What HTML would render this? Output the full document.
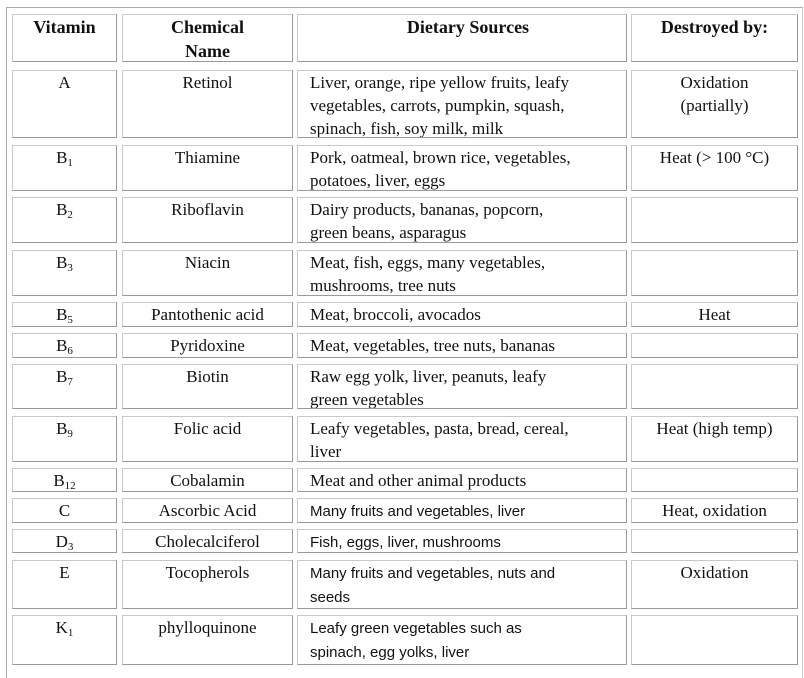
<!DOCTYPE html>
<html><head><meta charset="utf-8"><style>
body{margin:0;width:804px;height:673px;background:#fff;position:relative;overflow:hidden;font-family:"Liberation Serif",serif;color:#111}
#frame{position:absolute;left:6px;top:7px;width:795px;height:670px;border-top:1px solid #aaa;border-left:1px solid #aaa;border-right:1px solid #ccc}
.c{position:absolute;box-sizing:border-box;border:1px solid #c8c8c8;border-right-color:#999;border-bottom-color:#999;font-size:17px;line-height:23px;padding-top:0;white-space:nowrap;overflow:hidden}
.ctr{text-align:center}
.l{padding-left:12px}
.h{font-weight:bold;font-size:18px;line-height:24px;padding-top:0}
.s{font-family:"Liberation Sans",sans-serif;font-size:15px;line-height:23px}
sub{font-size:11px;vertical-align:-3px;line-height:0}
</style></head><body>
<div id="frame"></div>
<div id="t"></div>
<script>
const rows=[
 [14,62,'<b>Vitamin</b>','<b>Chemical<br>Name</b>','<b>Dietary Sources</b>','<b>Destroyed by:</b>',1],
 [70,138,'A','Retinol','Liver, orange, ripe yellow fruits, leafy<br>vegetables, carrots, pumpkin, squash,<br>spinach, fish, soy milk, milk','Oxidation<br>(partially)'],
 [145,191,'B<sub>1</sub>','Thiamine','Pork, oatmeal, brown rice, vegetables,<br>potatoes, liver, eggs','Heat (&gt; 100 °C)'],
 [197,243,'B<sub>2</sub>','Riboflavin','Dairy products, bananas, popcorn,<br>green beans, asparagus',''],
 [250,296,'B<sub>3</sub>','Niacin','Meat, fish, eggs, many vegetables,<br>mushrooms, tree nuts',''],
 [302,327,'B<sub>5</sub>','Pantothenic acid','Meat, broccoli, avocados','Heat'],
 [333,358,'B<sub>6</sub>','Pyridoxine','Meat, vegetables, tree nuts, bananas',''],
 [364,409,'B<sub>7</sub>','Biotin','Raw egg yolk, liver, peanuts, leafy<br>green vegetables',''],
 [416,462,'B<sub>9</sub>','Folic acid','Leafy vegetables, pasta, bread, cereal,<br>liver','Heat (high temp)'],
 [468,492,'B<sub>12</sub>','Cobalamin','Meat and other animal products',''],
 [498,523,'C','Ascorbic Acid','<span class="s">Many fruits and vegetables, liver</span>','Heat, oxidation'],
 [529,553,'D<sub>3</sub>','Cholecalciferol','<span class="s">Fish, eggs, liver, mushrooms</span>',''],
 [560,609,'E','Tocopherols','<span class="s">Many fruits and vegetables, nuts and<br>seeds</span>','Oxidation'],
 [615,665,'K<sub>1</sub>','phylloquinone','<span class="s">Leafy green vegetables such as<br>spinach, egg yolks, liver</span>','']
];
const cols=[[12,117,'ctr'],[122,293,'ctr'],[297,627,'l'],[631,798,'ctr']];
const names=['vitamin-cell','chemical-name-cell','dietary-sources-cell','destroyed-by-cell'];
const t=document.getElementById('t');
rows.forEach((r,i)=>{
 cols.forEach((c,j)=>{
  const d=document.createElement('div');
  d.className='c '+c[2]+(r[6]?' h ctr':'');
  d.style.left=c[0]+'px';d.style.top=r[0]+'px';
  d.style.width=(c[1]-c[0])+'px';d.style.height=(r[1]-r[0])+'px';
  d.innerHTML=r[2+j];
  
  
  t.appendChild(d);
 });
});
</script>
</body></html>
